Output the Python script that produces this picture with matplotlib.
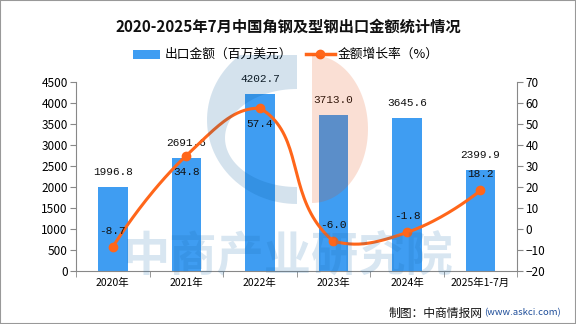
import matplotlib
matplotlib.use("Agg")
import matplotlib.pyplot as plt
import numpy as np
from matplotlib.patches import Rectangle, Polygon

plt.rcParams["font.family"] = ["Noto Sans CJK SC", "DejaVu Sans"]

# data
categories = ["2020年", "2021年", "2022年", "2023年", "2024年", "2025年1-7月"]
export_value = [1996.8, 2691.6, 4202.7, 3713.0, 3645.6, 2399.9]
growth_rate = [-8.7, 34.8, 57.4, -6.0, -1.8, 18.2]
rate_label_above = [True, False, False, True, True, True]

BAR_COLOR = "#3f9df2"
LINE_COLOR = "#ff661a"
W, H = 576, 324


def smooth_curve(pts, smooth=0.5, steps=40):
    """echarts-like bezier smoothing, control points clamped to the data box."""
    pts = np.asarray(pts, dtype=float)
    lo, hi = pts.min(axis=0), pts.max(axis=0)
    n = len(pts)
    cp_in, cp_out = [pts[0]], [pts[0]]
    for i in range(1, n - 1):
        v = (pts[i + 1] - pts[i - 1]) * smooth
        d0 = np.hypot(*(pts[i] - pts[i - 1]))
        d1 = np.hypot(*(pts[i + 1] - pts[i]))
        s = d0 + d1
        c0 = np.clip(pts[i] - v * d0 / s, lo, hi)
        c1 = np.clip(pts[i] + v * d1 / s, lo, hi)
        cp_in.append(c0)
        cp_out.append(c1)
    cp_in.append(pts[-1])
    cp_out.append(pts[-1])
    t = np.linspace(0, 1, steps)[:, None]
    out = []
    for i in range(n - 1):
        a, b, c, d = pts[i], cp_out[i], cp_in[i + 1], pts[i + 1]
        out.append((1 - t) ** 3 * a + 3 * (1 - t) ** 2 * t * b + 3 * (1 - t) * t ** 2 * c + t ** 3 * d)
    return np.vstack(out)


fig = plt.figure(figsize=(W / 100, H / 100), dpi=100)
ax = fig.add_axes([0.132, 0.1645, 0.766, 0.5835])
ax2 = ax.twinx()

x = np.arange(len(categories))

# ── bars ───────────────────────────────────────────────────────────
ax.bar(x, export_value, width=0.4, color=BAR_COLOR, zorder=2)
for xi, v in zip(x, export_value):
    ax.annotate(f"{v:.1f}", (xi, v), xytext=(0, 7), textcoords="offset points",
                ha="center", va="bottom", fontsize=8, family="Liberation Mono", color="#111111")

ax.set_xlim(-0.5, len(categories) - 0.5)
ax.set_ylim(0, 4500)
ax.set_yticks(np.arange(0, 4501, 500))
ax.set_xticks(x)
ax.set_xticklabels(categories)
ax.set_xticks(np.arange(-0.5, len(categories), 1), minor=True)
ax.tick_params(axis="x", which="major", length=0, labelsize=7.5, pad=5)
ax.tick_params(axis="x", which="minor", length=4, color="#888888", direction="out")
ax.tick_params(axis="y", length=4, color="#888888", labelsize=8.5, pad=2)
for s in ["top", "right"]:
    ax.spines[s].set_visible(False)
for s in ["left", "bottom"]:
    ax.spines[s].set_color("#888888")

# ── smooth growth line ─────────────────────────────────────────────
ax2.set_ylim(-20, 70)
ax2.set_yticks(np.arange(-20, 71, 10))
ax2.tick_params(axis="y", length=4, color="#888888", labelsize=8.5, pad=2)
for s in ["top", "left", "bottom"]:
    ax2.spines[s].set_visible(False)
ax2.spines["right"].set_color("#888888")

disp = ax2.transData.transform(np.column_stack([x, growth_rate]))
curve = ax2.transData.inverted().transform(smooth_curve(disp))
ax2.plot(curve[:, 0], curve[:, 1], color=LINE_COLOR, lw=2.2, zorder=3)
ax2.plot(x, growth_rate, "o", color=LINE_COLOR, ms=6, zorder=4)
for xi, v, above in zip(x, growth_rate, rate_label_above):
    ax2.annotate(f"{v:.1f}", (xi, v), xytext=(0, 8 if above else -8), textcoords="offset points",
                 ha="center", va="bottom" if above else "top", fontsize=8,
                 family="Liberation Mono", color="#111111", zorder=5)

# ── watermark (semi-transparent, on top) ───────────────────────────
wm = fig.add_axes([0, 0, 1, 1], zorder=10)
wm.set_xlim(0, W)
wm.set_ylim(H, 0)
wm.axis("off")
wm.patch.set_alpha(0)
clip = Rectangle((0, 55), W, H - 55, transform=wm.transData, visible=False)
wm.add_patch(clip)


def half_ellipse(cx, cy, rx, ry, left=True):
    a = np.linspace(np.pi / 2, 3 * np.pi / 2, 60) if left else np.linspace(-np.pi / 2, np.pi / 2, 60)
    return np.column_stack([cx + rx * np.cos(a), cy - ry * np.sin(a)])


outer = half_ellipse(297, 120, 90, 84)
inner = half_ellipse(297, 138, 72, 49)[::-1]
ring = Polygon(np.vstack([outer, inner]), closed=True, facecolor=(0, 0.34, 0.6),
               edgecolor="none", alpha=0.17)
half = Polygon(half_ellipse(312, 129, 56, 74, left=False), closed=True,
               facecolor=(0.9, 0.27, 0), edgecolor="none", alpha=0.17)
for p in (ring, half):
    wm.add_patch(p)
    p.set_clip_path(clip)
wm.text(288, 256, "中商产业研究院", ha="center", va="center", fontsize=34,
        fontweight="bold", color=(0.1, 0.42, 0.68), alpha=0.17)

# ── title, legend, credit ──────────────────────────────────────────
fig.text(0.5, 1 - 27 / H, "2020-2025年7月中国角钢及型钢出口金额统计情况", ha="center", va="center",
         fontsize=11, fontweight="bold", color="#111111")

ly = 1 - 54 / H
fig.patches.append(Rectangle((133 / W, ly - 4.5 / H), 27 / W, 9 / H,
                             transform=fig.transFigure, facecolor=BAR_COLOR, edgecolor="none"))
fig.text(165 / W, ly, "出口金额（百万美元）", ha="left", va="center", fontsize=9.2)
fig.lines.append(plt.Line2D([306 / W, 335 / W], [ly, ly],
                            transform=fig.transFigure, color=LINE_COLOR, lw=2.5))
fig.lines.append(plt.Line2D([320 / W], [ly], transform=fig.transFigure,
                            color=LINE_COLOR, marker="o", ms=6))
fig.text(338 / W, ly, "金额增长率（%）", ha="left", va="center", fontsize=9.2)

cy = 1 - 313 / H
fig.text(484 / W, cy, "(www.askci.com)", ha="left", va="center",
         fontsize=6.8, color="#1f4e9a")
fig.text(483 / W, cy, "制图：中商情报网", ha="right", va="center",
         fontsize=8.5, color="#111111")

fig.patches.append(Rectangle((0, 0), 1, 1, transform=fig.transFigure, fill=False,
                             edgecolor="#999999", lw=1.5))

fig.savefig("out.png", dpi=100)
